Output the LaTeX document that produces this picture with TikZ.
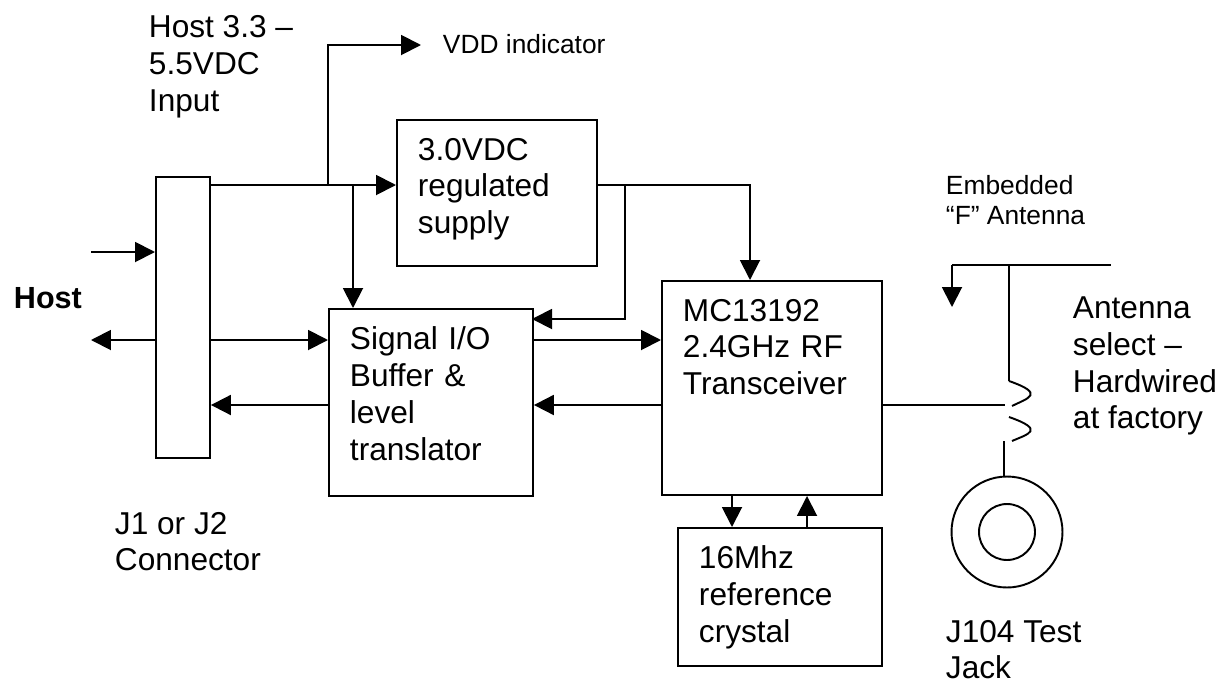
\documentclass[tikz,border=0pt]{standalone}
\usepackage{fontspec}
\setmainfont{Liberation Sans}
\usetikzlibrary{arrows.meta}

\begin{document}
\begin{tikzpicture}[x=0.02cm,y=-0.02cm,->,>={Triangle[length=0.4cm,width=0.4cm]},line width=1.1pt,
                    every node/.style={align=left,font=\fontsize{18}{20.9}\selectfont},
                    txt node/.style={anchor=north west,inner sep=0pt},
                    wide node/.style={txt node,font=\fontsize{18}{21.3}\selectfont},
                    small node/.style={txt node,font=\fontsize{15}{17.3}\selectfont},
                    main node/.style={draw,anchor=north west,inner xsep=0.42cm,inner ysep=0.36cm,text width=3.24cm}]
  \useasboundingbox (0,0) rectangle (1224,683);

  \node[draw,anchor=north west,inner sep=0pt,minimum width=1.08cm,minimum height=5.62cm] (conn) at (155,176) {};
  \node[main node,text depth=1.76cm,text width=3.16cm] (reg) at (396,119) {3.0VDC\\regulated\\supply};
  \node[main node,text depth=2.56cm] (sig) at (328,308) {Signal I/O\\Buffer \&\\level\\translator};
  \node[main node,text depth=3.12cm,text width=3.56cm] (mc) at (661,280) {MC13192\\2.4GHz RF\\Transceiver};
  \node[main node,text depth=1.58cm] (xtal) at (677,527) {16Mhz\\reference\\crystal};
  \node[draw,circle,inner sep=0pt,minimum size=2.22cm] (jack) at (1007,532) {};
  \node[draw,circle,inner sep=0pt,minimum size=1.12cm] (jackin) at (1007,532) {};

  \node[wide node] (hostin) at (148,14) {Host 3.3 –\\5.5VDC\\Input};
  \node[small node] (vdd) at (442,33) {VDD indicator};
  \node[txt node,font=\fontsize{17.4}{21}\selectfont\bfseries] (host) at (13,286) {Host};
  \node[txt node] (jcon) at (114,511) {J1 or J2\\Connector};
  \node[small node] (embed) at (945,174) {Embedded\\“F” Antenna};
  \node[txt node] (antsel) at (1072,296) {Antenna\\select –\\Hardwired\\at factory};
  \node[txt node] (jlab) at (945,619) {J104 Test\\Jack};

  % free ends and junctions
  \coordinate (inl) at (91,252);
  \coordinate (outl) at (91,340);
  \coordinate (sup) at (209,185);
  \coordinate (tap) at (328,185);
  \coordinate (tapb) at (353,185);
  \coordinate (top) at (328,45);
  \coordinate (vddend) at (421,45);
  \coordinate (regout) at (596,185);
  \coordinate (tapc) at (625,185);
  \coordinate (sigv) at (532,319);
  \coordinate (antl) at (952,265);
  \coordinate (antm) at (1009,265);
  \coordinate (antr) at (1111,265);
  \coordinate (anta) at (952,307);
  \coordinate (sw) at (1005,405);
  \coordinate (swa) at (1009,381);
  \coordinate (swb) at (1012,406);
  \coordinate (swc) at (1009,417);
  \coordinate (swd) at (1012,441);
  \coordinate (swe) at (1004,441);

  \draw (inl) -- (conn.west |- inl);
  \draw (conn.west |- outl) -- (outl);
  \draw (conn.east |- outl) -- (sig.west |- outl);
  \draw (sig.west |- 0,405) -- (conn.east |- 0,405);
  \draw (sup) -- (reg.west |- sup);
  \draw (tap) -- (top) -- (vddend);
  \draw (tapb) -- (tapb |- sig.north);
  \draw (regout) -| (mc.north -| 750,0);
  \draw (tapc) |- (sigv);
  \draw (sig.east |- outl) -- (mc.west |- outl);
  \draw (mc.west |- 0,405) -- (sig.east |- 0,405);
  \draw (mc.south -| 732,0) -- (xtal.north -| 732,0);
  \draw (xtal.north -| 807,0) -- (mc.south -| 807,0);

  \draw[-] (mc.east |- sw) -- (sw);
  \draw (antl) -- (anta);
  \draw[-] (antl) -- (antr);
  \draw[-] (antm) -- (swa);
  \draw[-] (swa) .. controls (1046,394) and (1028,398) .. (swb);
  \draw[-] (swc) .. controls (1046,430) and (1028,434) .. (swd);
  \draw[-] (swe) -- (jack.north -| swe);
\end{tikzpicture}
\end{document}
